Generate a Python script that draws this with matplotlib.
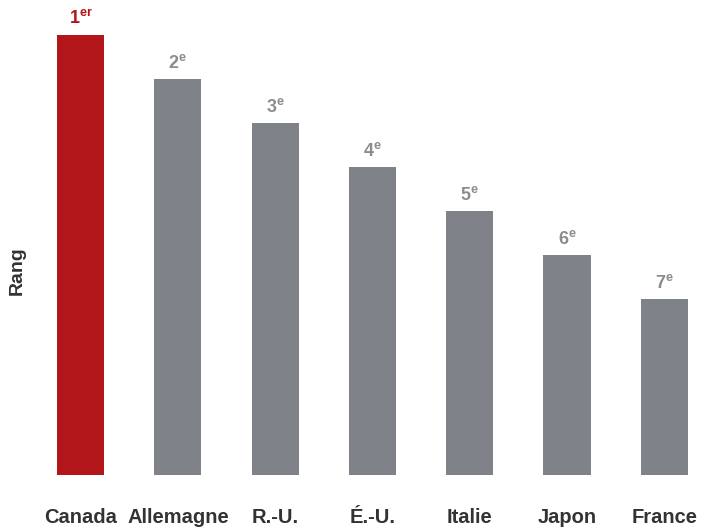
import matplotlib.pyplot as plt

plt.rcParams['font.family'] = ['Liberation Sans', 'DejaVu Sans']
plt.rcParams['mathtext.fontset'] = 'custom'
plt.rcParams['mathtext.rm'] = 'Liberation Sans'
plt.rcParams['mathtext.bf'] = 'Liberation Sans:bold'

# data
countries = ['Canada', 'Allemagne', 'R.-U.', 'É.-U.', 'Italie', 'Japon', 'France']
ranks = [1, 2, 3, 4, 5, 6, 7]
heights = [10, 9, 8, 7, 6, 5, 4]   # bar height shrinks by one step per rank
suffixes = ['er', 'e', 'e', 'e', 'e', 'e', 'e']

red = '#b3161a'
gray = '#80828a'
label_gray = '#8c8c8c'

fig = plt.figure(figsize=(7.06, 5.31), dpi=100)
ax = fig.add_axes([32 / 706, 56 / 531, 674 / 706, 455 / 531])

x = list(range(len(countries)))
colors = [red] + [gray] * (len(countries) - 1)
ax.bar(x, heights, width=0.485, color=colors)

for xi, h, r, s, c in zip(x, heights, ranks, suffixes, colors):
    txt_color = red if c == red else label_gray
    ax.text(xi, h + 0.15, r'$\mathbf{%d}^{\mathbf{%s}}$' % (r, s),
            ha='center', va='bottom', fontsize=13, color=txt_color)

ax.set_xlim(-0.5, 6.43)
ax.set_ylim(0, 10.34)
ax.set_xticks(x)
ax.set_xticklabels(countries, fontsize=14.5, fontweight='bold', color='#333333')
ax.tick_params(axis='x', length=0, pad=24)
ax.set_yticks([])
for sp in ax.spines.values():
    sp.set_visible(False)

ax.set_ylabel('Rang', fontsize=14, fontweight='bold', color='#333333')
ax.yaxis.set_label_coords(-0.009, 0.45)

fig.savefig('out.png', dpi=100)
